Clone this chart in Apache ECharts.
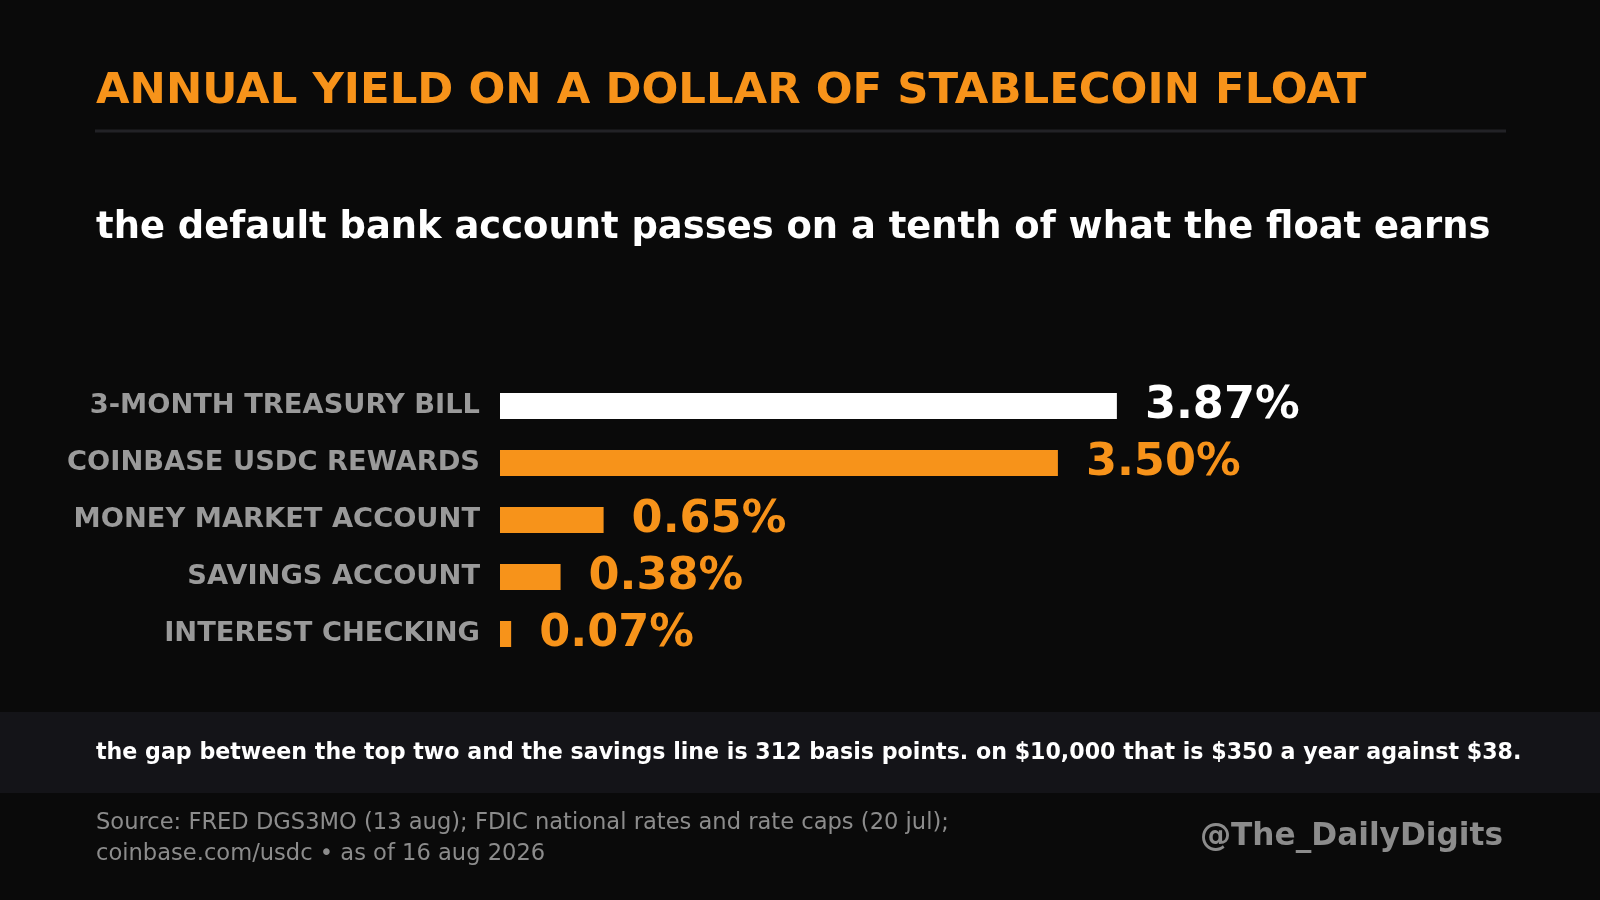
<!DOCTYPE html>
<html>
<head>
<meta charset="utf-8" />
<title>Annual yield on a dollar of stablecoin float</title>
<script src="https://cdn.jsdelivr.net/npm/echarts@6/dist/echarts.min.js"></script>
<style>
    html, body { margin: 0; padding: 0; background: #0a0a0a; }
    #main { width: 1600px; height: 900px; }
</style>
</head>
<body>
<div id="main"></div>
<script>
    // data
    var categories = ['3-MONTH TREASURY BILL', 'COINBASE USDC REWARDS', 'MONEY MARKET ACCOUNT', 'SAVINGS ACCOUNT', 'INTEREST CHECKING'];
    var yields = [3.87, 3.50, 0.65, 0.38, 0.07];
    var barColors = ['#ffffff', '#f7931a', '#f7931a', '#f7931a', '#f7931a'];

    var FONT = 'DejaVu Sans';
    var ORANGE = '#f7931a';

    var items = [];
    for (var i = 0; i < yields.length; i++) {
        items.push({
            value: yields[i],
            itemStyle: { color: barColors[i] },
            label: { color: barColors[i] }
        });
    }

    var myChart = echarts.init(document.getElementById('main'));
    myChart.setOption({
        backgroundColor: '#0a0a0a',
        animation: false,
        title: [
            {
                text: 'ANNUAL YIELD ON A DOLLAR OF STABLECOIN FLOAT',
                left: 96, top: 70, padding: 0,
                textStyle: { color: ORANGE, fontFamily: FONT, fontWeight: 'bold', fontSize: 43.4 }
            },
            {
                text: 'the default bank account passes on a tenth of what the float earns',
                left: 96, top: 210, padding: 0,
                textStyle: { color: '#ffffff', fontFamily: FONT, fontWeight: 'bold', fontSize: 36.9 }
            },
            {
                text: 'the gap between the top two and the savings line is 312 basis points. on $10,000 that is $350 a year against $38.',
                left: 96, top: 742, padding: 0,
                textStyle: { color: '#ffffff', fontFamily: FONT, fontWeight: 'bold', fontSize: 22.15 }
            },
            {
                text: 'Source: FRED DGS3MO (13 aug); FDIC national rates and rate caps (20 jul);\ncoinbase.com/usdc \u2022 as of 16 aug 2026',
                left: 96, top: 808, padding: 0,
                textStyle: { color: '#8c8c8c', fontFamily: FONT, fontWeight: 'normal', fontSize: 22.6, lineHeight: 31 }
            },
            {
                text: '@The_DailyDigits',
                right: 97, top: 821, padding: 0,
                textStyle: { color: '#8c8c8c', fontFamily: FONT, fontWeight: 'bold', fontSize: 31.2 }
            }
        ],
        graphic: [
            {
                type: 'rect', z: -1,
                shape: { x: 95, y: 129.5, width: 1411, height: 3 },
                style: { fill: '#222226' }
            },
            {
                type: 'rect', z: -1,
                shape: { x: 0, y: 712, width: 1600, height: 81 },
                style: { fill: '#141418' }
            }
        ],
        grid: { left: 500, top: 377.5, height: 285, width: 956.4 },
        xAxis: {
            type: 'value', min: 0, max: 6,
            show: false
        },
        yAxis: {
            type: 'category',
            data: categories,
            inverse: true,
            axisLine: { show: false },
            axisTick: { show: false },
            axisLabel: {
                margin: 20,
                color: '#9a9a9a',
                fontFamily: FONT,
                fontWeight: 'bold',
                fontSize: 27.3
            }
        },
        series: [
            {
                type: 'bar',
                data: items,
                barWidth: 26,
                label: {
                    show: true,
                    position: 'right',
                    distance: 28,
                    fontFamily: FONT,
                    fontWeight: 'bold',
                    fontSize: 44.6,
                    formatter: function (p) { return p.value.toFixed(2) + '%'; }
                }
            }
        ]
    });
</script>
</body>
</html>
